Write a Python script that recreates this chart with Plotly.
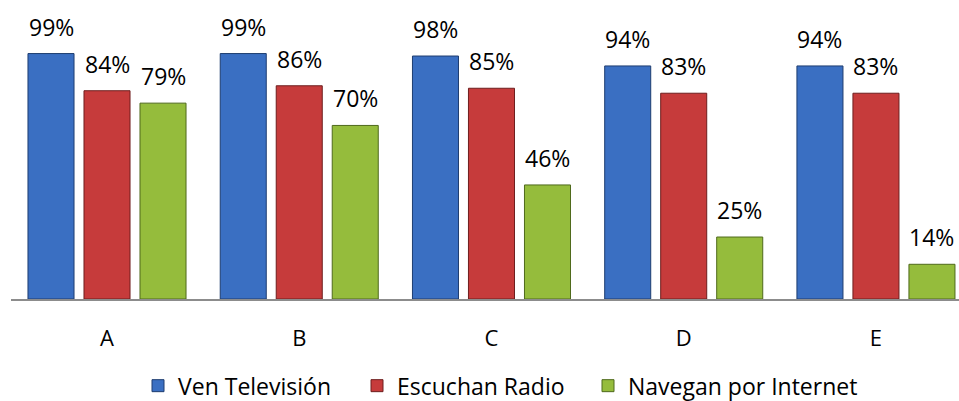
import plotly.graph_objects as go

categories = ["A", "B", "C", "D", "E"]
series_names = ["Ven Televisión", "Escuchan Radio", "Navegan por Internet"]
tv = [99, 99, 98, 94, 94]
radio = [84, 86, 85, 83, 83]
internet = [79, 70, 46, 25, 14]

series_values = [tv, radio, internet]
fills = ["#3A6FC2", "#C63B3B", "#95BC3C"]
edges = ["#1E3D70", "#6E1E1E", "#4F6A1C"]
legend_ids = ["legend", "legend2", "legend3"]
legend_left_px = [138, 357, 588]

FONT = "Open Sans"
xpos = list(range(len(categories)))
bargap = 0.126
bargroupgap = 0.178
slot = (1 - bargap) / 3
L, R = 11, 0
W = 959 - L - R

fig = go.Figure()
for name, vals, fc, ec, lg in zip(series_names, series_values, fills, edges, legend_ids):
    fig.add_trace(go.Bar(
        x=xpos, y=vals, name=name, legend=lg,
        marker=dict(color=fc, line=dict(color=ec, width=1)),
    ))

annotations = []
for j, vals in enumerate(series_values):
    for i, v in enumerate(vals):
        annotations.append(dict(
            x=i + (j - 1) * slot, y=v, xref="x", yref="y",
            text=f"{v}%", showarrow=False, yanchor="middle", yshift=27,
            font=dict(family=FONT, size=23, color="#000000"),
        ))

legend_common = dict(
    orientation="h", y=-0.29, yanchor="middle", xanchor="left",
    font=dict(family=FONT, size=23, color="#000000"),
    itemwidth=30, bgcolor="rgba(0,0,0,0)",
)
legends = {}
for lg, px in zip(legend_ids, legend_left_px):
    legends[lg] = dict(legend_common, x=(px - L) / W)

fig.update_layout(
    width=959, height=401,
    margin=dict(l=L, r=R, t=0, b=102, autoexpand=False),
    paper_bgcolor="white", plot_bgcolor="white",
    barmode="group", bargap=bargap, bargroupgap=bargroupgap,
    annotations=annotations,
    showlegend=True,
    xaxis=dict(
        range=[-0.4994, 4.432], tickmode="array", tickvals=xpos, ticktext=categories,
        showline=True, linecolor="#8C8C8C", linewidth=2, showgrid=False,
        zeroline=False, ticks="", ticklabelstandoff=19,
        tickfont=dict(family=FONT, size=22, color="#000000"),
    ),
    yaxis=dict(range=[0, 120.6], visible=False, showgrid=False, zeroline=False),
    **legends,
)

fig.write_html("out.html")
